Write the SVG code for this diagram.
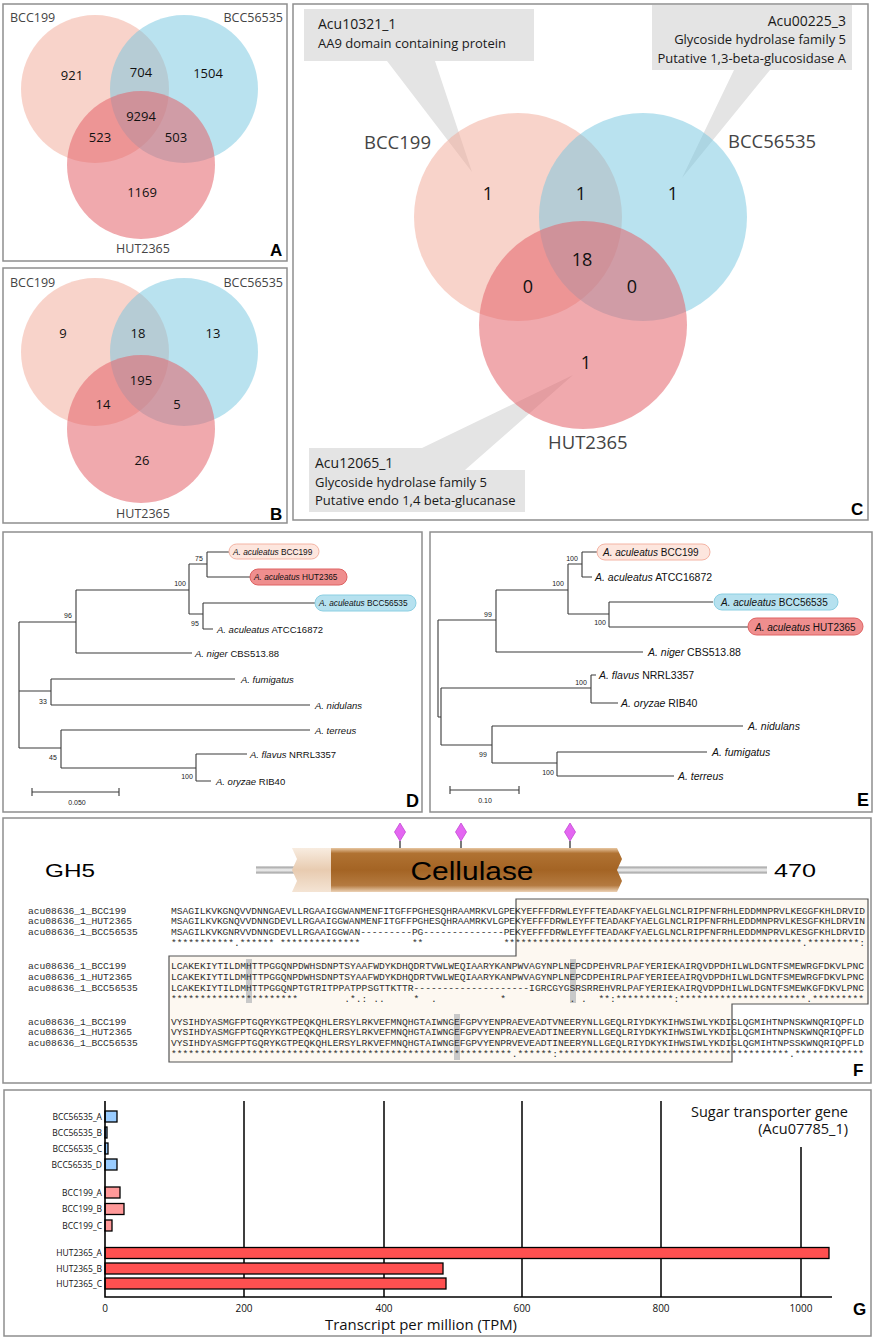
<svg xmlns="http://www.w3.org/2000/svg" width="875" height="1339" viewBox="0 0 875 1339">
<defs>
<style>
.pbox{fill:#fff;stroke:#8e8e8e;stroke-width:1.5}
.cp{fill:#f2a796;fill-opacity:.5}
.cb{fill:#74c6df;fill-opacity:.5}
.ch{fill:#e4626a;fill-opacity:.55}
.vl{font-family:"Open Sans","Liberation Sans",sans-serif;fill:#444}
.vn{font-family:"Open Sans","Liberation Sans",sans-serif;fill:#111;text-anchor:middle}
.pl{font-family:"Liberation Sans",Arial,sans-serif;font-weight:bold;fill:#000}
.co{fill:#e4e4e4}
.ct{font-family:"Open Sans","Liberation Sans",sans-serif;fill:#1a1a1a}
.tr{fill:none;stroke:#3a3a3a;stroke-width:1.1}
.sp{font-family:"Liberation Sans",Arial,sans-serif;fill:#111}
.bs{font-family:"Liberation Sans",Arial,sans-serif;font-size:7px;fill:#222;text-anchor:middle}
.i{font-style:italic}
.pk{fill:#fde6de;stroke:#f4b4a4;stroke-width:1}
.rd{fill:#ef8e8e;stroke:#de6262;stroke-width:1}
.bl{fill:#b6e1ef;stroke:#8ccfe2;stroke-width:1}
.seq{font-family:"Liberation Mono","Courier New",monospace;font-size:9.64px;fill:#2e2e2e;white-space:pre}
.hl{fill:#c9c9c9}
.bar{stroke:#000;stroke-width:1.3}
.gl{stroke:#000;stroke-width:1.5}
.gt{font-family:"Open Sans","Liberation Sans",sans-serif;fill:#111}
.dm{fill:#e466f2;stroke:#c24ad2;stroke-width:.8}
</style>
<linearGradient id="gline" x1="0" y1="0" x2="0" y2="1">
<stop offset="0" stop-color="#9a9a9a"/><stop offset="0.5" stop-color="#f2f2f2"/><stop offset="1" stop-color="#9a9a9a"/>
</linearGradient>
<linearGradient id="gmain" x1="0" y1="0" x2="0" y2="1">
<stop offset="0" stop-color="#e8c7a2"/><stop offset="0.12" stop-color="#b07232"/><stop offset="0.5" stop-color="#a46424"/><stop offset="0.85" stop-color="#b47a40"/><stop offset="1" stop-color="#ecd2b6"/>
</linearGradient>
<linearGradient id="glight" x1="0" y1="0" x2="0" y2="1">
<stop offset="0" stop-color="#f8ece0"/><stop offset="0.5" stop-color="#e8cbb0"/><stop offset="1" stop-color="#f4e4d4"/>
</linearGradient>
</defs>
<rect width="875" height="1339" fill="#fff"/>

<!-- Panel A -->
<g id="panelA">
<rect class="pbox" x="3" y="4" width="284" height="257"/>
<circle class="cp" cx="95" cy="89" r="74"/>
<circle class="cb" cx="184" cy="89" r="74"/>
<circle class="ch" cx="141" cy="165" r="74"/>
<text class="vl" x="10" y="22" font-size="12.5">BCC199</text>
<text class="vl" x="283" y="22" font-size="12.5" text-anchor="end">BCC56535</text>
<text class="vl" x="143" y="253" font-size="12.5" text-anchor="middle">HUT2365</text>
<g font-size="13">
<text class="vn" x="72" y="80">921</text>
<text class="vn" x="141" y="77">704</text>
<text class="vn" x="208" y="78">1504</text>
<text class="vn" x="141" y="121">9294</text>
<text class="vn" x="100" y="142">523</text>
<text class="vn" x="176" y="142">503</text>
<text class="vn" x="142" y="197">1169</text>
</g>
<text class="pl" x="270" y="256" font-size="17">A</text>
</g>

<!-- Panel B -->
<g id="panelB">
<rect class="pbox" x="3" y="268" width="284" height="255"/>
<circle class="cp" cx="95" cy="352" r="74"/>
<circle class="cb" cx="184" cy="352" r="74"/>
<circle class="ch" cx="141" cy="429" r="74"/>
<text class="vl" x="10" y="287" font-size="12.5">BCC199</text>
<text class="vl" x="283" y="287" font-size="12.5" text-anchor="end">BCC56535</text>
<text class="vl" x="143" y="518" font-size="12.5" text-anchor="middle">HUT2365</text>
<g font-size="13">
<text class="vn" x="63" y="338">9</text>
<text class="vn" x="138" y="338">18</text>
<text class="vn" x="213" y="338">13</text>
<text class="vn" x="141" y="385">195</text>
<text class="vn" x="103" y="409">14</text>
<text class="vn" x="177" y="409">5</text>
<text class="vn" x="142" y="465">26</text>
</g>
<text class="pl" x="270" y="520" font-size="17">B</text>
</g>

<!-- Panel C -->
<g id="panelC">
<rect class="pbox" x="293" y="4" width="575" height="516"/>
<polygon class="co" points="304,9 534,9 534,61 435,61 472,172 387,61 304,61"/>
<polygon class="co" points="652,5 852,5 852,70 770,70 682,178 734,70 652,70"/>
<polygon class="co" points="309,448 422,448 573,375 465,470 525,470 525,512 309,512"/>
<circle class="cp" cx="518" cy="217" r="104"/>
<circle class="cb" cx="643" cy="217" r="104"/>
<circle class="ch" cx="583" cy="325" r="104"/>
<text class="vl" x="364" y="149" font-size="18.5" fill="#555">BCC199</text>
<text class="vl" x="728" y="148" font-size="18.5">BCC56535</text>
<text class="vl" x="548" y="449" font-size="18.5">HUT2365</text>
<g font-size="18">
<text class="vn" x="488" y="200">1</text>
<text class="vn" x="581" y="200">1</text>
<text class="vn" x="673" y="200">1</text>
<text class="vn" x="582" y="266">18</text>
<text class="vn" x="528" y="293">0</text>
<text class="vn" x="632" y="293">0</text>
<text class="vn" x="586" y="369">1</text>
</g>
<text class="ct" x="318" y="29" font-size="14">Acu10321_1</text>
<text class="ct" x="318" y="48" font-size="13">AA9 domain containing protein</text>
<text class="ct" x="846" y="26" font-size="14" text-anchor="end">Acu00225_3</text>
<text class="ct" x="846" y="44" font-size="13" text-anchor="end">Glycoside hydrolase family 5</text>
<text class="ct" x="846" y="63" font-size="13" text-anchor="end">Putative 1,3-beta-glucosidase A</text>
<text class="ct" x="315" y="468" font-size="14">Acu12065_1</text>
<text class="ct" x="315" y="487" font-size="13">Glycoside hydrolase family 5</text>
<text class="ct" x="315" y="505" font-size="13">Putative endo 1,4 beta-glucanase</text>
<text class="pl" x="851" y="515" font-size="17">C</text>
</g>

<!-- Panel D -->
<g id="panelD">
<rect class="pbox" x="3" y="532" width="419" height="280"/>
<g id="connectors-D">
<path class="tr" d="M19,622V748M19,622H76M76,590V653M76,590H189M189,564V614M189,564H207M207,552V577M207,552H229M207,577H250M189,614H203M203,603V629M203,603H315M203,629H213M76,653H192M19,691H51M51,679V705M51,679H235M51,705H310M19,748H61M61,730V768M61,730H310M61,768H196M196,754V781M196,754H247M196,781H211"/>
<path class="tr" d="M32,792H119M32,788V796M119,788V796"/>
</g>
<rect class="pk" x="229" y="544" width="90" height="15" rx="7.5"/>
<rect class="rd" x="250" y="569" width="97" height="16" rx="8"/>
<rect class="bl" x="315" y="595" width="101" height="16" rx="8"/>
<g class="sp" font-size="8.3">
<text x="233" y="555"><tspan class="i">A. aculeatus</tspan> BCC199</text>
<text x="254" y="580"><tspan class="i">A. aculeatus</tspan> HUT2365</text>
<text x="319" y="606"><tspan class="i">A. aculeatus</tspan> BCC56535</text>
</g>
<g class="sp" font-size="9.5">
<text x="217" y="632.5"><tspan class="i">A. aculeatus</tspan> ATCC16872</text>
<text x="195" y="656.5"><tspan class="i">A. niger</tspan> CBS513.88</text>
<text x="241" y="682.5"><tspan class="i">A. fumigatus</tspan></text>
<text x="315" y="708.5"><tspan class="i">A. nidulans</tspan></text>
<text x="315" y="733.5"><tspan class="i">A. terreus</tspan></text>
<text x="250" y="757.5"><tspan class="i">A. flavus</tspan> NRRL3357</text>
<text x="216" y="784.5"><tspan class="i">A. oryzae</tspan> RIB40</text>
</g>
<text class="bs" x="199" y="560.5">75</text>
<text class="bs" x="180" y="585.5">100</text>
<text class="bs" x="68" y="617.5">96</text>
<text class="bs" x="195" y="625.5">95</text>
<text class="bs" x="43" y="703.5">33</text>
<text class="bs" x="53" y="759.5">45</text>
<text class="bs" x="187" y="778.5">100</text>
<text class="bs" x="77" y="805">0.050</text>
<text class="pl" x="406" y="807" font-size="18">D</text>
</g>

<!-- Panel E -->
<g id="panelE">
<rect class="pbox" x="430" y="532" width="442" height="280"/>
<g id="connectors-E">
<path class="tr" d="M438,620V717M438,620H496M496,590V652M496,590H568M568,564V614M568,564H582M582,552V577M582,552H597M582,577H592M568,614H609M609,602V627M609,602H713M609,627H748M496,652H643M438,717H441M441,688V745M441,688H591M591,675V703M591,675H596M591,703H618M441,745H492M492,726V763M492,726H743M492,763H557M557,752V776M557,752H707M557,776H674"/>
<path class="tr" d="M450,790H519M450,786V794M519,786V794"/>
</g>
<rect class="pk" x="597" y="544" width="113" height="16" rx="8"/>
<rect class="bl" x="714" y="594" width="124" height="16" rx="8"/>
<rect class="rd" x="748" y="618" width="115" height="17" rx="8.5"/>
<g class="sp" font-size="10">
<text x="603" y="556"><tspan class="i">A. aculeatus</tspan> BCC199</text>
<text x="721" y="606"><tspan class="i">A. aculeatus</tspan> BCC56535</text>
<text x="755" y="630.5"><tspan class="i">A. aculeatus</tspan> HUT2365</text>
</g>
<g class="sp" font-size="10.5">
<text x="595" y="581"><tspan class="i">A. aculeatus</tspan> ATCC16872</text>
<text x="648" y="656"><tspan class="i">A. niger</tspan> CBS513.88</text>
<text x="599" y="679"><tspan class="i">A. flavus</tspan> NRRL3357</text>
<text x="621" y="707"><tspan class="i">A. oryzae</tspan> RIB40</text>
<text x="748" y="730"><tspan class="i">A. nidulans</tspan></text>
<text x="712" y="756"><tspan class="i">A. fumigatus</tspan></text>
<text x="678" y="780"><tspan class="i">A. terreus</tspan></text>
</g>
<text class="bs" x="572" y="560.5">100</text>
<text class="bs" x="558" y="585.5">100</text>
<text class="bs" x="488" y="616.5">99</text>
<text class="bs" x="600" y="624.5">100</text>
<text class="bs" x="581" y="684.5">100</text>
<text class="bs" x="483" y="756.5">99</text>
<text class="bs" x="548" y="774.5">100</text>
<text class="bs" x="485" y="803">0.10</text>
<text class="pl" x="857" y="806" font-size="18">E</text>
</g>

<!-- Panel F -->
<g id="panelF">
<rect class="pbox" x="3" y="818" width="868" height="265"/>
<g id="domain">
<rect x="256" y="866.5" width="511" height="7" fill="url(#gline)"/>
<polygon points="292,848 331,848 331,892 292,892 297,881 292,870 297,859" fill="url(#glight)"/>
<polygon points="331,848 617,848 622,859 617,870 622,881 617,892 331,892" fill="url(#gmain)"/>
<path d="M400,841V848M461,841V848M570,841V848" stroke="#222" stroke-width="1.2"/>
<polygon class="dm" points="400,823 405.5,832 400,841 394.5,832"/>
<polygon class="dm" points="461,823 466.5,832 461,841 455.5,832"/>
<polygon class="dm" points="570,823 575.5,832 570,841 564.5,832"/>
<text x="472" y="880" font-family="Liberation Sans,Arial,sans-serif" font-size="26" text-anchor="middle" textLength="123" lengthAdjust="spacingAndGlyphs" fill="#000">Cellulase</text>
<text x="45" y="877" font-family="Liberation Sans,Arial,sans-serif" font-size="19" textLength="50" lengthAdjust="spacingAndGlyphs" fill="#000">GH5</text>
<text x="774" y="877" font-family="Liberation Sans,Arial,sans-serif" font-size="19" textLength="42" lengthAdjust="spacingAndGlyphs" fill="#000">470</text>
</g>
<g id="alignment">
<polygon points="516,899 868,899 868,1004 732,1004 732,1062 169,1062 169,956 516,956" fill="#fdf8f1" stroke="#555" stroke-width="1.2"/>
<rect class="hl" x="246" y="959" width="6" height="44"/>
<rect class="hl" x="570" y="959" width="6" height="44"/>
<rect class="hl" x="454" y="1014" width="6" height="46"/>
<g class="seq">
<text x="28" y="913.5">acu08636_1_BCC199</text>
<text x="28" y="924.1">acu08636_1_HUT2365</text>
<text x="28" y="934.7">acu08636_1_BCC56535</text>
<text x="171" y="913.5" textLength="694" lengthAdjust="spacing">MSAGILKVKGNQVVDNNGAEVLLRGAAIGGWANMENFITGFFPGHESQHRAAMRKVLGPEKYEFFFDRWLEYFFTEADAKFYAELGLNCLRIPFNFRHLEDDMNPRVLKEGGFKHLDRVID</text>
<text x="171" y="924.1" textLength="694" lengthAdjust="spacing">MSAGILKVKGNQVVDNNGDEVLLRGAAIGGWANMENFITGFFPGHESQHRAAMRKVLGPEKYEFFFDRWLEYFFTEADAKFYAELGLNCLRIPFNFRHLEDDMNPRVLKESGFKHLDRVIN</text>
<text x="171" y="934.7" textLength="694" lengthAdjust="spacing">MSAGILKVKGNRVVDNNGDEVLLRGAAIGGWAN---------PG--------------PEKYEFFFDRWLEYFFTEADAKFYAELGLNCLRIPFNFRHLEDDMNPRVLKESGFKHLDRVID</text>
<text x="171" y="946" textLength="694" lengthAdjust="spacing" xml:space="preserve">***********.****** **************         **              ****************************************************.*********:</text>
<text x="28" y="969.3">acu08636_1_BCC199</text>
<text x="28" y="979.9">acu08636_1_HUT2365</text>
<text x="28" y="990.5">acu08636_1_BCC56535</text>
<text x="171" y="969.3">LCAKEKIYTILDMHTTPGGQNPDWHSDNPTSYAAFWDYKDHQDRTVWLWEQIAARYKANPWVAGYNPLNEPCDPEHVRLPAFYERIEKAIRQVDPDHILWLDGNTFSMEWRGFDKVLPNC</text>
<text x="171" y="979.9">LCAKEKIYTILDMHTTPGGQNPDWHSDNPTSYAAFWDYKDHQDRTVWLWEQIAARYKANPWVAGYNPLNEPCDPEHIRLPAFYERIEEAIRQVDPDHILWLDGNTFSMEWRGFDKVLPNC</text>
<text x="171" y="990.5">LCAKEKIYTILDMHTTPGGQNPTGTRITPPATPPSGTTKTTR--------------------IGRCGYGSRSRREHVRLPAFYERIEKAIRQVDPDHILWLDGNTFSMEWKGFDKVLPNC</text>
<text x="171" y="1001.5" xml:space="preserve">**********************        .*.: ..     *  .           *           . .  **:**********:**********************.*********</text>
<text x="28" y="1024.5">acu08636_1_BCC199</text>
<text x="28" y="1035.1">acu08636_1_HUT2365</text>
<text x="28" y="1045.7">acu08636_1_BCC56535</text>
<text x="171" y="1024.5">VYSIHDYASMGFPTGQRYKGTPEQKQHLERSYLRKVEFMNQHGTAIWNGEFGPVYENPRAEVEADTVNEERYNLLGEQLRIYDKYKIHWSIWLYKDIGLQGMIHTNPNSKWNQRIQPFLD</text>
<text x="171" y="1035.1">VYSIHDYASMGFPTGQRYKGTPEQKQHLERSYLRKVEFMNQHGTAIWNGEFGPVYENPRAEVEADTINEERYNLLGEQLRIYDKYKIHWSIWLYKDIGLQGMIHTNPNSKWNQRIQPFLD</text>
<text x="171" y="1045.7">VYSIHDYASMGFPTGQRYKGTPEQKQHLERSYLRKVEFMNQHGTAIWNGEFGPVYENPRVEVEADTINEERYNLLGEQLRIYDKYKIHWSIWLYKDIGLQGMIHTNPSSKWNQRIQPFLD</text>
<text x="171" y="1056.5" xml:space="preserve">***********************************************************.******:****************************************.************</text>
</g>
</g>
<text class="pl" x="853" y="1076" font-size="17">F</text>
</g>

<!-- Panel G -->
<g id="panelG">
<rect class="pbox" x="4" y="1090" width="867" height="246"/>
<g id="grid">
<path class="gl" d="M244,1101V1297M384,1101V1297M522,1101V1297M661,1101V1297M801,1147V1297" fill="none"/>
</g>
<g id="bars">
<rect class="bar" x="105" y="1111" width="12" height="11" fill="#99ccff"/>
<rect class="bar" x="105" y="1127" width="2" height="11" fill="#99ccff"/>
<rect class="bar" x="105" y="1143" width="3" height="11" fill="#99ccff"/>
<rect class="bar" x="105" y="1159" width="12" height="11" fill="#99ccff"/>
<rect class="bar" x="105" y="1187" width="15" height="11" fill="#ff9999"/>
<rect class="bar" x="105" y="1203.5" width="19" height="11" fill="#ff9999"/>
<rect class="bar" x="105" y="1220" width="7" height="11" fill="#ff9999"/>
<rect class="bar" x="105" y="1247.5" width="724" height="11" fill="#ff5050"/>
<rect class="bar" x="105" y="1263" width="338" height="11" fill="#ff5050"/>
<rect class="bar" x="105" y="1278" width="341" height="11" fill="#ff5050"/>
</g>
<path d="M105,1101V1297H832" fill="none" stroke="#000" stroke-width="1.6"/>
<g class="gt" font-size="8.5" text-anchor="end">
<text x="102" y="1119.5">BCC56535_A</text>
<text x="102" y="1135.5">BCC56535_B</text>
<text x="102" y="1151.5">BCC56535_C</text>
<text x="102" y="1167.5">BCC56535_D</text>
<text x="102" y="1195.5">BCC199_A</text>
<text x="102" y="1212">BCC199_B</text>
<text x="102" y="1228.5">BCC199_C</text>
<text x="102" y="1256">HUT2365_A</text>
<text x="102" y="1271.5">HUT2365_B</text>
<text x="102" y="1286.5">HUT2365_C</text>
</g>
<g class="gt" font-size="10" text-anchor="middle">
<text x="105" y="1312">0</text>
<text x="244" y="1312">200</text>
<text x="384" y="1312">400</text>
<text x="522" y="1312">600</text>
<text x="661" y="1312">800</text>
<text x="801" y="1312">1000</text>
</g>
<text class="gt" x="325" y="1330" font-size="14.5" textLength="192" lengthAdjust="spacingAndGlyphs">Transcript per million (TPM)</text>
<text class="gt" x="848" y="1117" font-size="14.5" text-anchor="end">Sugar transporter gene</text>
<text class="gt" x="848" y="1134" font-size="14.5" text-anchor="end">(Acu07785_1)</text>
<text class="pl" x="853" y="1315" font-size="17">G</text>
</g>
</svg>
